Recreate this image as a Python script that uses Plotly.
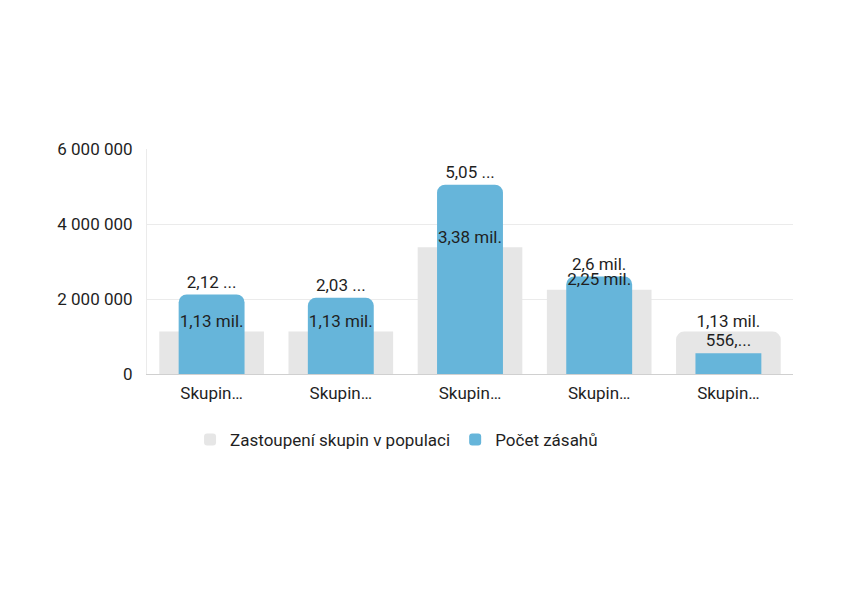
import plotly.graph_objects as go

categories = ["Skupina 1", "Skupina 2", "Skupina 3", "Skupina 4", "Skupina 5"]
tick_labels = ["Skupin…", "Skupin…", "Skupin…", "Skupin…", "Skupin…"]

population = [1130000, 1130000, 3380000, 2250000, 1130000]
population_labels = ["1,13 mil.", "1,13 mil.", "3,38 mil.", "2,25 mil.", "1,13 mil."]

interventions = [2120000, 2030000, 5050000, 2600000, 556000]
intervention_labels = ["2,12 ...", "2,03 ...", "5,05 ...", "2,6 mil.", "556,..."]

y_ticks = [0, 2000000, 4000000, 6000000]

font_family = "Roboto"
text_color = "#1f1f1f"
label_font = dict(family=font_family, size=17, color=text_color)

fig = go.Figure()
fig.add_trace(go.Bar(
    x=categories,
    y=population,
    name="Zastoupení skupin v populaci",
    width=0.81,
    marker=dict(color="#e6e6e6", cornerradius=8, line=dict(width=0)),
    hoverinfo="skip",
))
fig.add_trace(go.Bar(
    x=categories,
    y=interventions,
    name="Počet zásahů",
    width=0.51,
    marker=dict(color="#66b5da", cornerradius=8, line=dict(width=0)),
    text=intervention_labels,
    textposition="outside",
    textfont=label_font,
    cliponaxis=False,
))
# gray-bar labels drawn on top of the blue bars
fig.add_trace(go.Scatter(
    x=categories,
    y=population,
    mode="text",
    text=population_labels,
    textposition="top center",
    textfont=label_font,
    showlegend=False,
    cliponaxis=False,
))

fig.update_layout(
    width=841,
    height=606,
    barmode="overlay",
    separators=", ",
    plot_bgcolor="white",
    paper_bgcolor="white",
    font=dict(family=font_family, size=17, color=text_color),
    margin=dict(l=139, r=56, t=141, b=240),
    showlegend=True,
    legend=dict(
        orientation="h",
        xref="container",
        yref="container",
        x=0.462,
        xanchor="center",
        y=1 - 432 / 606,
        yanchor="middle",
        font=dict(family=font_family, size=17, color=text_color),
        itemclick=False,
    ),
    xaxis=dict(
        tickmode="array",
        tickvals=categories,
        ticktext=tick_labels,
        showgrid=False,
        showline=True,
        linecolor="#d0d0d0",
        linewidth=1,
        ticks="",
        ticklabelstandoff=4,
    ),
    yaxis=dict(
        range=[0, 6000000],
        tickvals=y_ticks,
        tickformat=",.0f",
        showgrid=True,
        gridcolor="#ebebeb",
        gridwidth=1,
        zeroline=False,
        showline=True,
        linecolor="#ebebeb",
        ticks="",
        ticklabelstandoff=10,
    ),
)

fig.write_html("out.html")
